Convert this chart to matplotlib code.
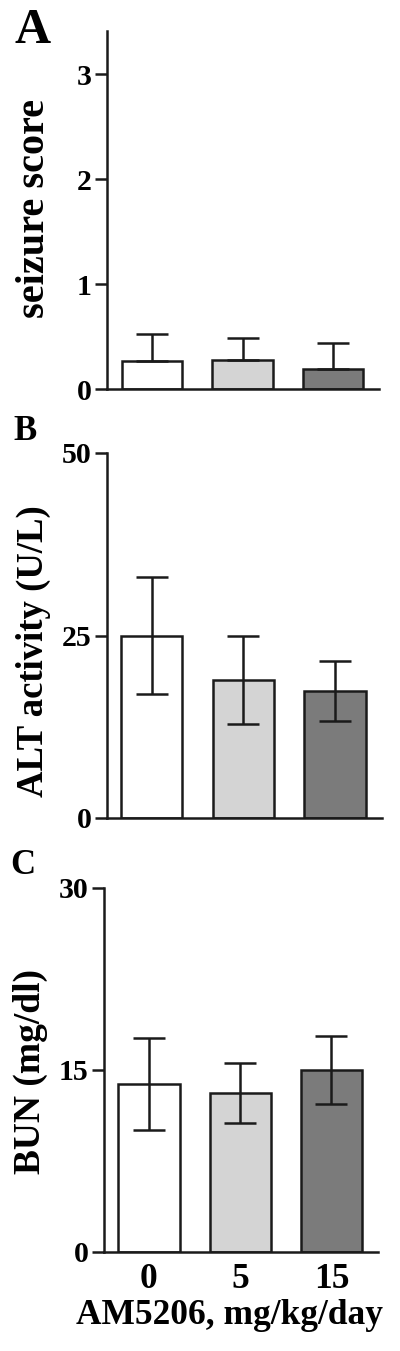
import matplotlib
matplotlib.use('Agg')
import matplotlib.pyplot as plt

plt.rcParams['font.family'] = ['Liberation Serif', 'DejaVu Serif']
plt.rcParams['font.weight'] = 'bold'

doses = ['0', '5', '15']
bar_colors = ['#ffffff', '#d4d4d4', '#7b7b7b']

seizure_mean = [0.27, 0.28, 0.19]
seizure_err = [0.25, 0.21, 0.25]

alt_mean = [25.0, 18.9, 17.4]
alt_err = [8.0, 6.0, 4.1]

bun_mean = [13.85, 13.1, 15.0]
bun_err = [3.8, 2.5, 2.8]

W, H = 400, 1351
fig = plt.figure(figsize=(W / 100, H / 100), dpi=100)


def px_axes(left, right, top, bottom):
    return fig.add_axes([left / W, 1 - bottom / H, (right - left) / W, (bottom - top) / H])


def panel(ax, mean, err, ylim, yticks, xlim, lower=True):
    x = range(len(mean))
    ax.bar(x, mean, width=0.67, color=bar_colors, edgecolor='#1a1a1a', linewidth=1.8, zorder=2)
    yerr = [err if lower else [0] * len(err), err]
    ax.errorbar(x, mean, yerr=yerr, fmt='none', ecolor='#1a1a1a', elinewidth=1.8,
                capsize=11.5, capthick=1.8, zorder=3)
    ax.set_ylim(*ylim)
    ax.set_xlim(*xlim)
    ax.set_yticks(yticks)
    ax.spines['top'].set_visible(False)
    ax.spines['right'].set_visible(False)
    for s in ('left', 'bottom'):
        ax.spines[s].set_linewidth(1.8)
        ax.spines[s].set_color('#1a1a1a')
    ax.tick_params(axis='y', length=9, width=1.8, labelsize=21.5, pad=2, color='#1a1a1a')
    ax.tick_params(axis='x', length=0, labelsize=25.5, pad=8)
    ax.set_xticks(list(x))
    for t in ax.get_yticklabels():
        t.set_fontweight('bold')


# A
axA = px_axes(107, 379, 31, 389)
panel(axA, seizure_mean, seizure_err, (0, 3.41), [0, 1, 2, 3], (-0.497, 2.508), lower=False)
axA.set_xticklabels([])

# B
axB = px_axes(107, 382, 453, 818)
panel(axB, alt_mean, alt_err, (0, 50), [0, 25, 50], (-0.485, 2.51))
axB.set_xticklabels([])

# C
axC = px_axes(104, 378, 888, 1252)
panel(axC, bun_mean, bun_err, (0, 30), [0, 15, 30], (-0.493, 2.51))
axC.set_xticklabels(doses, fontweight='bold')

fig.text(229 / W, 1 - 1315 / H, 'AM5206, mg/kg/day', ha='center', va='center',
         fontsize=25.5, fontweight='bold')

fig.text(35 / W, 1 - 208 / H, 'seizure score', rotation=90, ha='center', va='center',
         fontsize=29, fontweight='bold')
fig.text(33 / W, 1 - 651 / H, 'ALT activity (U/L)', rotation=90, ha='center', va='center',
         fontsize=26.5, fontweight='bold')
fig.text(30 / W, 1 - 1072 / H, 'BUN (mg/dl)', rotation=90, ha='center', va='center',
         fontsize=27, fontweight='bold')

fig.text(33 / W, 1 - 31 / H, 'A', ha='center', va='center', fontsize=36, fontweight='bold')
fig.text(25 / W, 1 - 432 / H, 'B', ha='center', va='center', fontsize=25, fontweight='bold')
fig.text(23 / W, 1 - 866 / H, 'C', ha='center', va='center', fontsize=25, fontweight='bold')

fig.savefig('out.png', dpi=100)
